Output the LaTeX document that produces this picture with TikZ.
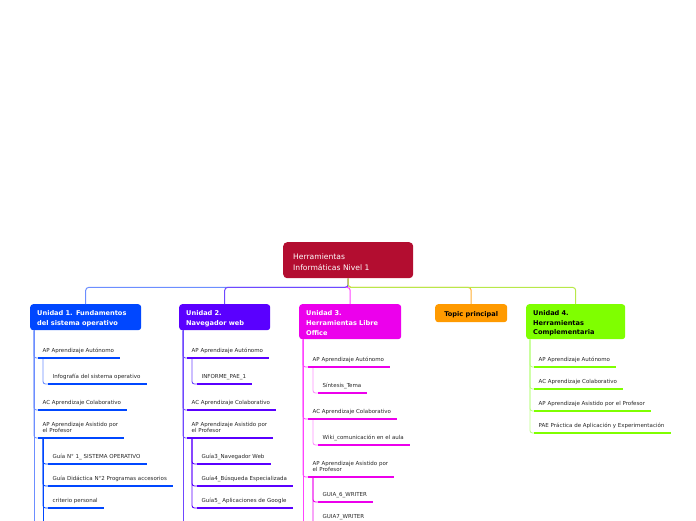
\documentclass[tikz,border=0pt]{standalone}
\usepackage{fontspec}
\setmainfont{DejaVu Sans}
\definecolor{rootred}{HTML}{B30D30}
\definecolor{uone}{HTML}{0047FF}
\definecolor{utwo}{HTML}{5A00FF}
\definecolor{uthree}{HTML}{EC00EC}
\definecolor{topico}{HTML}{FF9A00}
\definecolor{ufour}{HTML}{7FFF00}
\definecolor{lone}{HTML}{6C8EFF}
\definecolor{ltwo}{HTML}{6F48FF}
\definecolor{lthree}{HTML}{FF44FF}
\definecolor{lfour}{HTML}{BDFF88}
\definecolor{busgreen}{HTML}{B8E84A}
\begin{document}
\begin{tikzpicture}[
    x=1pt, y=-1pt,
    root/.style={rectangle, rounded corners=4pt, fill=rootred, text=white, anchor=north west,
        inner xsep=10pt, inner ysep=0pt, minimum height=36pt, text width=110pt, align=left,
        text height=9pt, font=\fontsize{7.6}{11}\selectfont},
    unit/.style={rectangle, rounded corners=3pt, fill=#1, anchor=north west,
        inner xsep=7pt, inner ysep=0pt, align=left, text height=8pt,
        font=\bfseries\fontsize{6.6}{9.7}\selectfont},
    leaf/.style={anchor=south west, inner xsep=4.5pt, inner ysep=3.5pt, text depth=1.5pt,
        align=left, font=\fontsize{5.5}{6.4}\selectfont, text=black!85},
    bus/.style={draw=#1, line width=1pt, rounded corners=3pt},
    spine/.style={draw=#1, line width=0.9pt, rounded corners=2.5pt},
    uline/.style={draw=#1, line width=2.3pt}
]
\useasboundingbox (0,0) rectangle (696,520);
\clip (0,0) rectangle (696,520);

% Central topic
\node[root] (root) at (283,242) {Herramientas\\Informáticas Nivel 1};

% Main topics
\node[unit=uone, text=white, text width=97pt, minimum height=26pt] (u1) at (30,304) {Unidad 1. Fundamentos\\del sistema operativo};
\node[unit=utwo, text=white, text width=77pt, minimum height=26pt] (u2) at (179,304) {Unidad 2.\\Navegador web};
\node[unit=uthree, text=white, text width=88pt, minimum height=35pt] (u3) at (299,304) {Unidad 3.\\Herramientas Libre\\Office};
\node[unit=topico, text=black, text width=58pt, minimum height=18pt, align=center] (tp) at (435,304) {Topic principal};
\node[unit=ufour, text=black, text width=85pt, minimum height=35pt] (u4) at (526,304) {Unidad 4.\\Herramientas\\Complementaria};

% Branches from the central topic
\draw[bus=lone] (root.south) -- ++(0,9) -| (u1.north);
\draw[bus=ltwo] (root.south) -- ++(0,9) -| (u2.north);
\draw[bus=topico!80] (root.south) -- ++(0,9) -| (tp.north);
\draw[bus=busgreen] (root.south) -- ++(0,9) -| (u4.north);
\draw[bus=lthree] ([yshift=-9pt]root.south) -| (u3.north);

% Unidad 1 subtopics
\node[leaf] (a11) at (38,358) {AP Aprendizaje Autónomo};
\node[leaf] (b11) at (48,384) {Infografía del sistema operativo};
\node[leaf] (a12) at (38,410) {AC Aprendizaje Colaborativo};
\node[leaf] (a13) at (38,438) {AP Aprendizaje Asistido por\\el Profesor};
\node[leaf] (b131) at (48,464) {Guía N° 1\_ SISTEMA OPERATIVO};
\node[leaf] (b132) at (48,486) {Guía Didáctica N°2 Programas accesorios};
\node[leaf] (b133) at (48,508) {criterio personal};
\coordinate (e1) at (34,530);
\coordinate (e13) at (43,530);

% Unidad 2 subtopics
\node[leaf] (a21) at (187,358) {AP Aprendizaje Autónomo};
\node[leaf] (b21) at (197,384) {INFORME\_PAE\_1};
\node[leaf] (a22) at (187,410) {AC Aprendizaje Colaborativo};
\node[leaf] (a23) at (187,438) {AP Aprendizaje Asistido por\\el Profesor};
\node[leaf] (b231) at (197,464) {Guía3\_Navegador Web};
\node[leaf] (b232) at (197,486) {Guía4\_Búsqueda Especializada};
\node[leaf] (b233) at (197,508) {Guía5\_ Aplicaciones de Google};
\coordinate (e2) at (183,530);

% Unidad 3 subtopics
\node[leaf] (a31) at (308,367) {AP Aprendizaje Autónomo};
\node[leaf] (b31) at (318,393) {Síntesis\_Tema};
\node[leaf] (a32) at (308,419) {AC Aprendizaje Colaborativo};
\node[leaf] (b32) at (318,445) {Wiki\_comunicación en el aula};
\node[leaf] (a33) at (308,477) {AP Aprendizaje Asistido por\\el Profesor};
\node[leaf] (b331) at (318,502) {GUIA\_6\_WRITER};
\node[leaf] (b332) at (318,524) {GUIA7\_WRITER};
\coordinate (e3) at (303,535);

% Unidad 4 subtopics
\node[leaf] (a41) at (534,367) {AP Aprendizaje Autónomo};
\node[leaf] (a42) at (534,389) {AC Aprendizaje Colaborativo};
\node[leaf] (a43) at (534,411) {AP Aprendizaje Asistido por el Profesor};
\node[leaf] (a44) at (534,433) {PAE Práctica de Aplicación y Experimentación};

% Spines
\draw[spine=lone] ([xshift=4pt]u1.south west) -- (e1);
\foreach \n in {a11,a12,a13}
  \draw[spine=lone] ([xshift=4pt]u1.south west) |- (\n.south west);
\draw[spine=lone] ([xshift=5pt]a11.south west) |- (b11.south west);
\draw[spine=uone] ([xshift=5pt]a13.south west) -- (e13);
\foreach \n in {b131,b132,b133}
  \draw[spine=uone] ([xshift=5pt]a13.south west) |- (\n.south west);

\draw[spine=ltwo] ([xshift=4pt]u2.south west) -- (e2);
\foreach \n in {a21,a22,a23}
  \draw[spine=ltwo] ([xshift=4pt]u2.south west) |- (\n.south west);
\draw[spine=ltwo] ([xshift=5pt]a21.south west) |- (b21.south west);
\foreach \n in {b231,b232,b233}
  \draw[spine=utwo] ([xshift=5pt]a23.south west) |- (\n.south west);

\draw[spine=lthree] ([xshift=4pt]u3.south west) -- (e3);
\foreach \n in {a31,a32,a33}
  \draw[spine=lthree] ([xshift=4pt]u3.south west) |- (\n.south west);
\draw[spine=lthree!60] ([xshift=5pt]a31.south west) |- (b31.south west);
\draw[spine=lthree!60] ([xshift=5pt]a32.south west) |- (b32.south west);
\foreach \n in {b331,b332}
  \draw[spine=uthree] ([xshift=5pt]a33.south west) |- (\n.south west);

\foreach \n in {a41,a42,a43,a44}
  \draw[spine=lfour] ([xshift=4pt]u4.south west) |- (\n.south west);

% Underlines
\foreach \n in {a11,b11,a12,a13,b131,b132,b133}
  \draw[uline=uone] (\n.south west) -- ([xshift=1.5pt]\n.south east);
\foreach \n in {a21,b21,a22,a23,b231,b232,b233}
  \draw[uline=utwo] (\n.south west) -- ([xshift=1.5pt]\n.south east);
\foreach \n in {a31,b31,a32,b32,a33,b331,b332}
  \draw[uline=uthree] (\n.south west) -- ([xshift=1.5pt]\n.south east);
\foreach \n in {a41,a42,a43,a44}
  \draw[uline=ufour] (\n.south west) -- ([xshift=1.5pt]\n.south east);

\end{tikzpicture}
\end{document}
